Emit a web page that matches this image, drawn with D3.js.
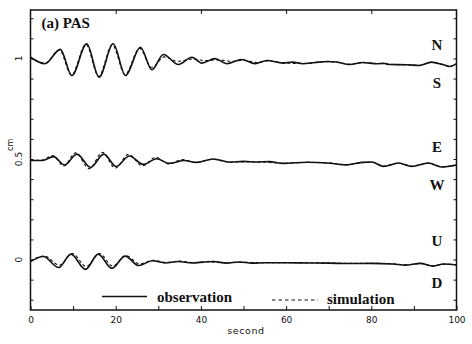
<!DOCTYPE html>
<html>
<head>
<meta charset="utf-8">
<script src="https://cdn.jsdelivr.net/npm/d3@7"></script>
<style>
  html, body { margin: 0; padding: 0; background: #fff; }
  svg { display: block; }
</style>
</head>
<body>
<svg id="chart" width="472" height="344"></svg>
<script>
// Station PAS: observed vs simulated ground displacement (cm), components offset vertically.
// Each record is [time (s), displacement + offset (cm)].
const nsObserved = [[0,1.006],[3.4,0.974],[7.0,1.045],[9.7,0.915],[13.2,1.073],[16.1,0.907],[19.4,1.073],[22.3,0.915],[25.8,1.056],[28.5,0.944],[31.2,1.020],[34.7,0.970],[37.9,1.006],[40.2,0.977],[43.3,0.999],[46.1,0.974],[49.6,0.995],[52.7,0.974],[55.5,0.990],[59.3,0.977],[61.5,0.982],[63.9,0.974],[66.8,0.980],[69.6,0.985],[71.9,0.982],[74.9,0.970],[78.0,0.980],[81.3,0.974],[82.8,0.976],[84.3,0.970],[88.3,0.969],[91.3,0.965],[94.1,0.982],[96.7,0.970],[98.4,0.960],[100,0.974]];
const nsSimulated = [[0,1.004],[3.4,0.977],[6.8,1.042],[9.6,0.918],[13.0,1.070],[16.0,0.911],[19.2,1.068],[22.2,0.921],[25.6,1.050],[28.4,0.956],[31.5,1.008],[34.5,0.986],[38.0,0.997],[41.0,0.989],[44.0,0.993],[47.0,0.986],[50.0,0.991],[53.0,0.980],[55.7,0.988],[59.3,0.978],[63.9,0.975],[69.6,0.984],[72.0,0.981],[75.0,0.971],[78.0,0.979],[81.3,0.975],[84.3,0.971],[88.3,0.968],[91.3,0.966],[94.1,0.980],[96.7,0.971],[98.4,0.962],[100,0.972]];

const ewObserved = [[0,0.4925],[2.8,0.4925],[5.4,0.512],[8.0,0.470],[10.9,0.524],[14.1,0.458],[17.2,0.524],[20.1,0.463],[23.2,0.515],[26.5,0.473],[29.6,0.501],[32.6,0.478],[36.1,0.4925],[38.9,0.483],[42.9,0.500],[46.8,0.484],[50,0.488],[53.2,0.485],[56,0.487],[59.3,0.478],[64.9,0.484],[70.3,0.479],[74.2,0.471],[77.8,0.483],[80.1,0.485],[82.9,0.463],[86.4,0.480],[89.5,0.463],[93.4,0.480],[96.5,0.460],[100,0.470]];
const ewSimulated = [[0,0.493],[2.8,0.495],[5.2,0.517],[7.8,0.465],[10.6,0.531],[13.8,0.452],[16.9,0.533],[19.9,0.455],[23.0,0.523],[26.3,0.466],[29.4,0.509],[32.4,0.475],[35.6,0.497],[38.8,0.482],[42.6,0.499],[46.8,0.485],[53.2,0.486],[59.3,0.479],[64.9,0.483],[70.3,0.480],[74.2,0.472],[77.8,0.482],[80.1,0.484],[82.9,0.465],[86.4,0.479],[89.5,0.465],[93.4,0.479],[96.5,0.462],[100,0.469]];

const udObserved = [[0,-0.010],[3.0,0.015],[6.6,-0.040],[9.5,0.027],[12.9,-0.049],[15.9,0.027],[19.1,-0.044],[22.2,0.017],[25.4,-0.030],[28.6,-0.006],[31.6,-0.017],[34.7,-0.010],[37.9,-0.017],[41.0,-0.012],[43,-0.010],[46,-0.018],[49,-0.012],[52,-0.018],[55,-0.016],[60,-0.016],[65,-0.017],[70,-0.018],[75,-0.020],[80,-0.019],[85,-0.022],[88,-0.028],[91.5,-0.019],[94.5,-0.033],[97,-0.022],[100,-0.027]];
const udSimulated = [[0,-0.008],[3.2,0.018],[6.8,-0.028],[9.8,0.030],[13.1,-0.035],[16.2,0.030],[19.3,-0.032],[22.4,0.020],[25.6,-0.022],[28.8,-0.004],[31.8,-0.014],[35,-0.008],[38,-0.015],[41,-0.011],[45,-0.015],[50,-0.014],[55,-0.016],[60,-0.016],[65,-0.016],[70,-0.017],[75,-0.019],[80,-0.019],[85,-0.021],[88,-0.026],[91.5,-0.020],[94.5,-0.031],[97,-0.023],[100,-0.026]];

const xTickLabels = [0, 20, 40, 60, 80, 100];
const yTickLabels = [[0, "0"], [0.5, "0.5"], [1, "1"]];
const componentLabels = [["N", 1.04], ["S", 0.853], ["E", 0.537], ["W", 0.348], ["U", 0.069], ["D", -0.144]];
const stationTitle = "(a) PAS";

const svg = d3.select("#chart");
const plotLeft = 30.5, plotRight = 456.5, plotTop = 10, plotBottom = 310;

const x = d3.scaleLinear().domain([0, 100]).range([plotLeft, plotRight]);
const y = d3.scaleLinear().domain([-0.251, 1.241]).range([plotBottom, plotTop]);

const serif = "'Liberation Serif', 'Times New Roman', serif";
const sans = "'DejaVu Sans', sans-serif";

// Axes: inward ticks on all four sides
const axisStyle = g => {
  g.select(".domain").remove();
  g.selectAll(".tick line").attr("stroke", "#111").attr("stroke-width", 1);
  g.selectAll("text").attr("font-family", sans).attr("font-size", 9).attr("fill", "#111");
};

svg.append("g").attr("transform", `translate(0,${plotBottom})`)
  .call(d3.axisBottom(x).tickValues(d3.range(0, 101, 10)).tickSize(-4).tickPadding(7)
    .tickFormat(d => xTickLabels.includes(d) ? d : ""))
  .call(axisStyle);

svg.append("g").attr("transform", `translate(0,${plotTop})`)
  .call(d3.axisTop(x).tickValues(d3.range(20, 100, 20)).tickSize(-4).tickFormat(""))
  .call(axisStyle);

const yTicks = d3.range(-2, 13).map(i => i / 10);
svg.append("g").attr("transform", `translate(${plotLeft},0)`)
  .call(d3.axisLeft(y).tickValues(yTicks).tickSize(-3).tickFormat(""))
  .call(axisStyle);
svg.append("g").attr("transform", `translate(${plotRight},0)`)
  .call(d3.axisRight(y).tickValues(yTicks).tickSize(-3).tickFormat(""))
  .call(axisStyle);

// Rotated y labels
svg.selectAll("text.ylab").data(yTickLabels).join("text")
  .attr("class", "ylab")
  .attr("transform", d => `translate(19,${y(d[0])}) rotate(-90)`)
  .attr("text-anchor", "middle").attr("dy", "0.35em")
  .attr("font-family", sans).attr("font-size", 9).attr("fill", "#111")
  .text(d => d[1]);

svg.append("text")
  .attr("transform", `translate(10,${y(0.57)}) rotate(-90)`)
  .attr("text-anchor", "middle").attr("dy", "0.35em")
  .attr("font-family", sans).attr("font-size", 8).attr("fill", "#111")
  .text("cm");

svg.append("text")
  .attr("x", 246).attr("y", 334)
  .attr("text-anchor", "middle")
  .attr("font-family", sans).attr("font-size", 9.5).attr("letter-spacing", 0.6).attr("fill", "#111")
  .text("second");

// Frame
svg.append("rect")
  .attr("x", plotLeft).attr("y", plotTop).attr("width", plotRight - plotLeft).attr("height", plotBottom - plotTop)
  .attr("fill", "none").attr("stroke", "#111").attr("stroke-width", 1.5);

// Waveforms
const line = d3.line().x(d => x(d[0])).y(d => y(d[1])).curve(d3.curveMonotoneX);
const traces = [
  { data: nsSimulated, dashed: true }, { data: ewSimulated, dashed: true }, { data: udSimulated, dashed: true },
  { data: nsObserved, dashed: false }, { data: ewObserved, dashed: false }, { data: udObserved, dashed: false }
];
svg.append("g").selectAll("path").data(traces).join("path")
  .attr("d", d => line(d.data))
  .attr("fill", "none").attr("stroke", "#111")
  .attr("stroke-width", d => d.dashed ? 1.1 : 1.6)
  .attr("stroke-dasharray", d => d.dashed ? "3,2.5" : null)
  .attr("stroke-linejoin", "round");

// Title and component letters
svg.append("text")
  .attr("x", 41.5).attr("y", 28)
  .attr("font-family", serif).attr("font-weight", "bold").attr("font-size", 15).attr("fill", "#111")
  .text(stationTitle);

svg.selectAll("text.comp").data(componentLabels).join("text")
  .attr("class", "comp")
  .attr("x", 437).attr("y", d => y(d[1]))
  .attr("text-anchor", "middle")
  .attr("font-family", serif).attr("font-weight", "bold").attr("font-size", 15).attr("fill", "#111")
  .text(d => d[0]);

// Legend
const legend = svg.append("g");
legend.append("line").attr("x1", 102).attr("x2", 147).attr("y1", 296.5).attr("y2", 296.5)
  .attr("stroke", "#111").attr("stroke-width", 1.4);
legend.append("text").attr("x", 157).attr("y", 301.5)
  .attr("font-family", serif).attr("font-weight", "bold").attr("font-size", 15).attr("fill", "#111")
  .text("observation");
legend.append("line").attr("x1", 272).attr("x2", 318).attr("y1", 300).attr("y2", 300)
  .attr("stroke", "#111").attr("stroke-width", 1.1).attr("stroke-dasharray", "3.5,3");
legend.append("text").attr("x", 327).attr("y", 304)
  .attr("font-family", serif).attr("font-weight", "bold").attr("font-size", 15).attr("fill", "#111")
  .text("simulation");
</script>
</body>
</html>
